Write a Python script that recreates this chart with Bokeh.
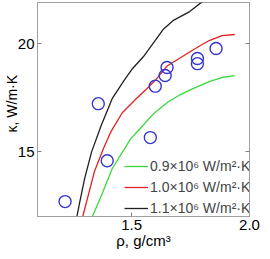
from bokeh.plotting import figure
from bokeh.models import Range1d, LinearAxis, FixedTicker, Legend, LegendItem
from bokeh.embed import file_html
from bokeh.resources import INLINE

# measured points (rho, kappa)
rho_pts = [1.217, 1.358, 1.396, 1.579, 1.600, 1.642, 1.650, 1.779, 1.779, 1.858]
kappa_pts = [12.69, 17.22, 14.58, 15.65, 18.03, 18.52, 18.89, 19.07, 19.31, 19.77]

# model curves for three heat-transfer coefficients
rho_09 = [1.32, 1.333, 1.371, 1.417, 1.496, 1.53, 1.592, 1.654, 1.70, 1.767, 1.829, 1.883, 1.9375]
kap_09 = [11.5, 12.0, 12.96, 14.21, 15.6, 16.0, 16.75, 17.3, 17.6, 17.95, 18.24, 18.43, 18.52]

rho_10 = [1.28, 1.292, 1.342, 1.38, 1.4125, 1.46, 1.52, 1.564, 1.60, 1.65, 1.70, 1.746, 1.79, 1.829, 1.883, 1.9375]
kap_10 = [11.5, 12.0, 14.09, 15.15, 15.94, 16.8, 17.46, 17.91, 18.30, 18.96, 19.3, 19.61, 19.9, 20.14, 20.37, 20.42]

rho_11 = [1.26, 1.28, 1.30, 1.33, 1.37, 1.417, 1.467, 1.50, 1.55, 1.60, 1.633, 1.675, 1.746, 1.80, 1.85, 1.94]
kap_11 = [11.6, 12.7, 13.75, 15.0, 16.2, 17.45, 18.29, 18.8, 19.4, 20.15, 20.65, 21.06, 21.48, 21.94, 22.35, 23.0]

labels = ["0.9\u00d710\u2076 W/m\u00b2\u00b7K", "1.0\u00d710\u2076 W/m\u00b2\u00b7K", "1.1\u00d710\u2076 W/m\u00b2\u00b7K"]
x_ticks = [1.5, 2.0]
y_ticks = [15, 20]

FONT = "Liberation Sans"
AX = "#a0a0a0"

p = figure(width=262, height=251, output_backend="svg", toolbar_location=None,
           title=None, x_range=Range1d(1.1, 2.0), y_range=Range1d(12, 21.9),
           min_border_left=34, min_border_right=13, min_border_top=2, min_border_bottom=35)
p.grid.visible = False
p.outline_line_color = AX
p.background_fill_color = "white"

for ax, ticks in ((p.xaxis[0], x_ticks), (p.yaxis[0], y_ticks)):
    ax.ticker = FixedTicker(ticks=ticks)
    ax.axis_line_color = AX
    ax.major_tick_line_color = "#808080"
    ax.major_tick_in = 4
    ax.major_tick_out = 0
    ax.minor_tick_line_color = None
    ax.major_label_text_font = FONT
    ax.major_label_text_font_size = "15px"
    ax.major_label_text_color = "black"
    ax.axis_label_text_font = FONT
    ax.axis_label_text_font_style = "normal"
    ax.axis_label_text_color = "black"
p.xaxis[0].major_label_overrides = {1.5: "1.5", 2.0: "2.0"}
p.xaxis[0].major_label_standoff = 3
p.xaxis[0].axis_label = "\u03c1, g/cm\u00b3"
p.xaxis[0].axis_label_text_font_size = "15px"
p.xaxis[0].axis_label_standoff = -1

p.yaxis[0].major_label_standoff = 3
p.yaxis[0].axis_label = "\u00a0" * 3 + "\u03ba, W/m\u00b7K"
p.yaxis[0].axis_label_text_font_size = "14px"
p.yaxis[0].axis_label_standoff = -5

right = LinearAxis(ticker=FixedTicker(ticks=y_ticks), axis_line_color=AX,
                   major_tick_line_color="#808080", major_tick_in=4, major_tick_out=0,
                   minor_tick_line_color=None, major_label_overrides={15: "", 20: ""},
                   major_label_standoff=0)
p.add_layout(right, "right")

g = p.line(rho_09, kap_09, line_color="#3ad83a", line_width=1.3)
r = p.line(rho_10, kap_10, line_color="#e02222", line_width=1.3)
k = p.line(rho_11, kap_11, line_color="#202020", line_width=1.3)

p.scatter(rho_pts, kappa_pts, marker="circle", size=12, fill_color=None,
          line_color="#3535d0", line_width=1.4)

legend = Legend(items=[LegendItem(label=labels[0], renderers=[g]),
                       LegendItem(label=labels[1], renderers=[r]),
                       LegendItem(label=labels[2], renderers=[k])],
                location=(87, 0), padding=0, margin=0, spacing=5,
                label_height=14, glyph_height=14, glyph_width=24, label_standoff=2,
                label_text_font=FONT, label_text_font_size="14px",
                border_line_alpha=0, background_fill_alpha=0)
p.add_layout(legend, "center")

open("out.html", "w").write(file_html(p, INLINE))
